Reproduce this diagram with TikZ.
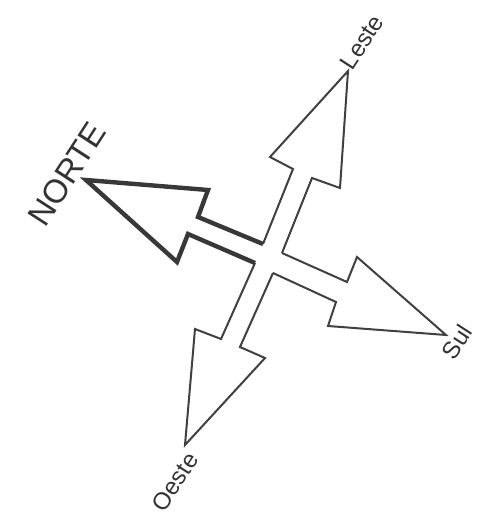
\documentclass[tikz,border=0pt]{standalone}
\usepackage{fontspec}
\setmainfont{Liberation Sans}
\begin{document}
\begin{tikzpicture}[x=0.5pt, y=-0.5pt, every node/.style={inner sep=0pt}]
        \tikzset{
            thinarrow/.style={draw=black!75, line width=1pt, line join=miter},
            northarrow/.style={draw=black!78, line width=2.2pt, line join=miter},
            dirlabel/.style={font=\fontsize{12}{14}\selectfont, text=black!80, rotate=57},
        }
        \useasboundingbox (0,0) rectangle (487,524);
        \coordinate (ne) at (263,244);
        \coordinate (se) at (282,253);
        \coordinate (sw) at (273,273);
        \coordinate (nw) at (255,263);
        \draw[thinarrow] (ne) -- (293,169) -- (270,157) -- (348,71) -- (340,188) -- (312,178) -- (se);
        \draw[thinarrow] (se) -- (347,282) -- (357,257) -- (446,335) -- (328,326) -- (336,302) -- (sw);
        \draw[thinarrow] (sw) -- (240,347) -- (265,358) -- (185,445) -- (195,329) -- (221,339) -- (nw);
        \draw[northarrow] (nw) -- (188,234) -- (177,262) -- (86,180) -- (208,190) -- (198,217) -- (ne);
        \node[font=\fontsize{16.5}{18}\selectfont, text=black!80, rotate=57] (norte) at (67,174) {NORTE};
        \node[dirlabel] (leste) at (362,42) {Leste};
        \node[dirlabel] (sul) at (457,342) {Sul};
        \node[dirlabel] (oeste) at (175,482) {Oeste};
\end{tikzpicture}
\end{document}
